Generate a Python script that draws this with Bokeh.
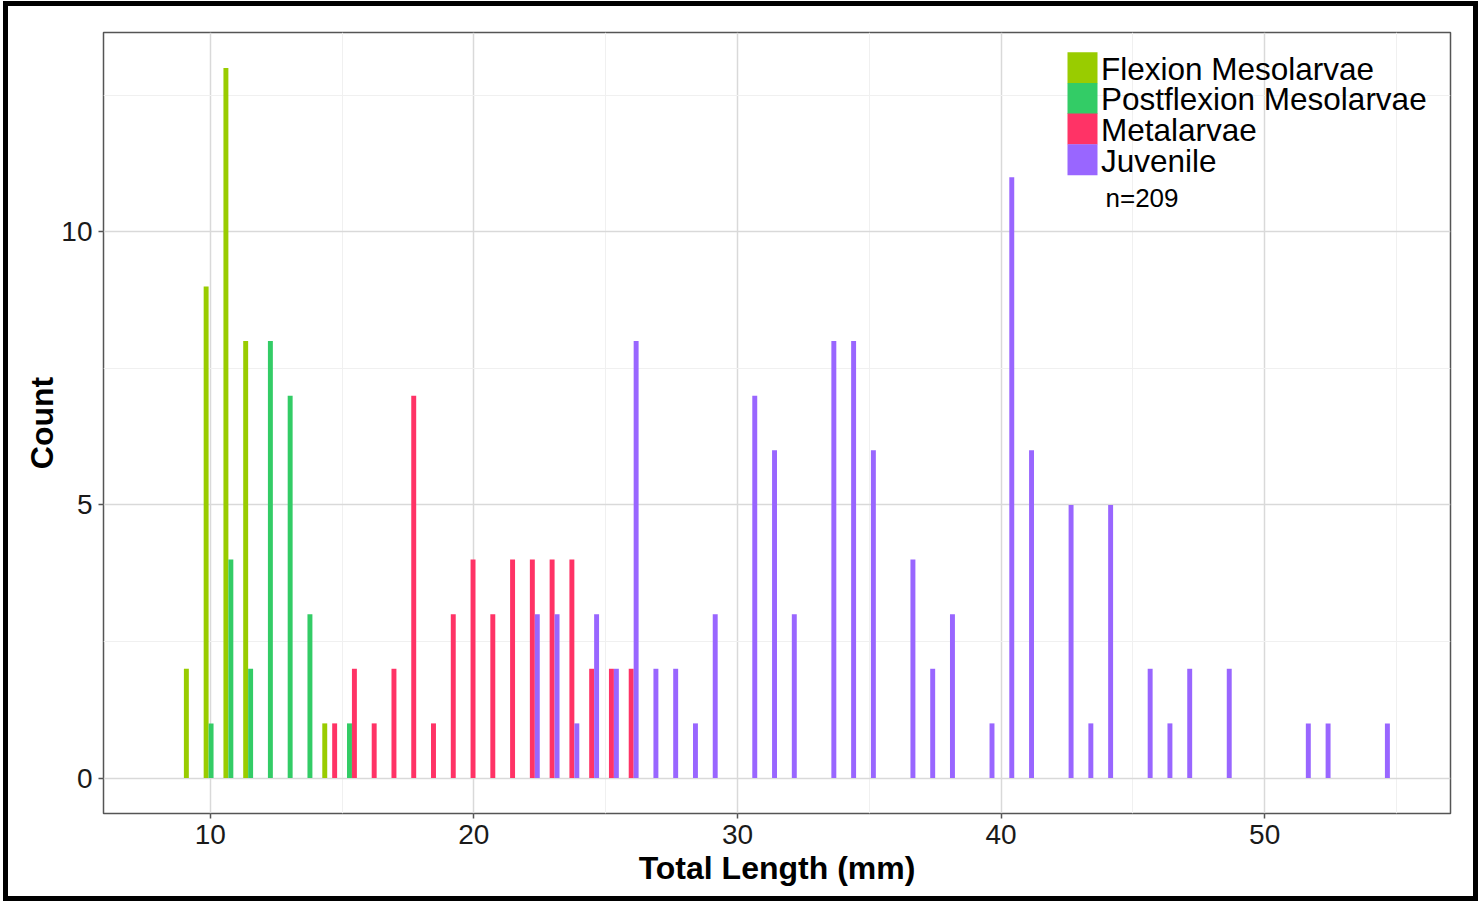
from bokeh.plotting import figure
from bokeh.models import FixedTicker, Label, ColumnDataSource, BoxAnnotation
from bokeh.transform import dodge
from bokeh.embed import file_html
from bokeh.resources import INLINE

# ---- data (bin midpoints in mm, counts) ----
binwidth = 0.75
flex_x = [9.375, 10.125, 10.875, 11.625, 14.625]
flex_n = [2, 9, 13, 8, 1]

post_x = [10.125, 10.875, 11.625, 12.375, 13.125, 13.875, 15.375]
post_n = [1, 4, 2, 8, 7, 3, 1]

meta_x = [14.625, 15.375, 16.125, 16.875, 17.625, 18.375, 19.125, 19.875,
          20.625, 21.375, 22.125, 22.875, 23.625, 24.375, 25.125, 25.875]
meta_n = [1, 2, 1, 2, 7, 1, 3, 4, 3, 4, 4, 4, 4, 2, 2, 2]

juv_x = [22.125, 22.875, 23.625, 24.375, 25.125, 25.875, 26.625, 27.375,
         28.125, 28.875, 30.375, 31.125, 31.875, 33.375, 34.125, 34.875,
         36.375, 37.125, 37.875, 39.375, 40.125, 40.875, 42.375, 43.125,
         43.875, 45.375, 46.125, 46.875, 48.375, 51.375, 52.125, 54.375]
juv_n = [3, 3, 1, 3, 2, 8, 2, 2, 1, 3, 7, 6, 3, 8, 8, 6,
         4, 2, 3, 1, 11, 6, 5, 1, 5, 2, 1, 2, 2, 1, 1, 1]

groups = ["Flexion Mesolarvae", "Postflexion Mesolarvae", "Metalarvae", "Juvenile"]
colors = ["#99CC00", "#33CC66", "#FF3366", "#9966FF"]
x_ticks = [10, 20, 30, 40, 50]
y_ticks = [0, 5, 10]
n_label = "n=209"

FONT = "Liberation Sans"
X0, X1 = 5.95, 57.05
Y0, Y1 = -0.65, 13.65

p = figure(width=1475, height=900,
           x_range=(X0, X1), y_range=(Y0, Y1),
           output_backend="svg", toolbar_location=None,
           min_border_left=95, min_border_top=26,
           min_border_right=33, min_border_bottom=93,
           background_fill_color="white", border_fill_color="white")
p.styles = {"margin-left": "3px", "margin-top": "1px",
            "border": "5px solid black", "box-sizing": "border-box"}

slot = binwidth / 4.0
series = [(flex_x, flex_n), (post_x, post_n), (meta_x, meta_n), (juv_x, juv_n)]
for j, ((xs, ns), col) in enumerate(zip(series, colors)):
    src = ColumnDataSource(dict(x=xs, top=ns))
    off = -binwidth / 2 + slot * (j + 0.5)
    p.vbar(x=dodge("x", off, range=p.x_range), top="top", bottom=0,
           width=slot, source=src, fill_color=col, line_color=None)

# axes
p.xaxis.ticker = FixedTicker(ticks=x_ticks, minor_ticks=[15, 25, 35, 45, 55])
p.yaxis.ticker = FixedTicker(ticks=y_ticks, minor_ticks=[2.5, 7.5, 12.5])
p.xgrid.ticker = p.xaxis.ticker
p.ygrid.ticker = p.yaxis.ticker
for g in (p.xgrid, p.ygrid):
    g.grid_line_color = "#d9d9d9"
    g.grid_line_width = 1.5
    g.minor_grid_line_color = "#f0f0f0"
    g.minor_grid_line_width = 1

p.xaxis.axis_label = "Total Length (mm)"
p.yaxis.axis_label = "Count"
for ax in (p.xaxis, p.yaxis):
    ax.axis_line_color = None
    ax.major_tick_line_color = "#555555"
    ax.major_tick_line_width = 1.5
    ax.major_tick_out = 5
    ax.major_tick_in = 0
    ax.minor_tick_line_color = None
    ax.major_label_text_font = FONT
    ax.major_label_text_font_size = "28px"
    ax.major_label_text_color = "#1a1a1a"
    ax.axis_label_text_font = FONT
    ax.axis_label_text_font_size = "32px"
    ax.axis_label_text_font_style = "bold"
    ax.axis_label_text_color = "black"
p.xaxis.major_label_standoff = 6
p.xaxis.axis_label_standoff = 3
p.yaxis.major_label_standoff = 6
p.yaxis.axis_label_standoff = -2

p.outline_line_color = "#555555"
p.outline_line_width = 1.5

# ---- legend (drawn as contiguous keys, as in the reference) ----
# pixel -> data helpers for the legend block (frame: x 103..1450, y 32..813)
def dx(px):
    return X0 + (px - 103) * (X1 - X0) / 1347.0

def dy(py):
    return Y1 - (py - 32) * (Y1 - Y0) / 781.0

key_l, key_r = 1067, 1097
key_top, pitch = 51.7, 30.7
for i, (g, col) in enumerate(zip(groups, colors)):
    t = key_top + i * pitch
    p.add_layout(BoxAnnotation(left=dx(key_l), right=dx(key_r),
                               top=dy(t), bottom=dy(t + pitch + 0.3),
                               fill_color=col, fill_alpha=1.0,
                               line_color=None, level="overlay"))
    p.add_layout(Label(x=dx(1100.5), y=dy(68 + i * pitch), text=g,
                       text_baseline="alphabetic", text_align="left",
                       text_font=FONT, text_font_size="31.5px",
                       text_color="black"))

p.add_layout(Label(x=dx(1105), y=dy(197.5), text=n_label,
                   text_baseline="alphabetic",
                   text_font=FONT, text_font_size="26px", text_color="black"))

open("out.html", "w").write(file_html(p, INLINE))
